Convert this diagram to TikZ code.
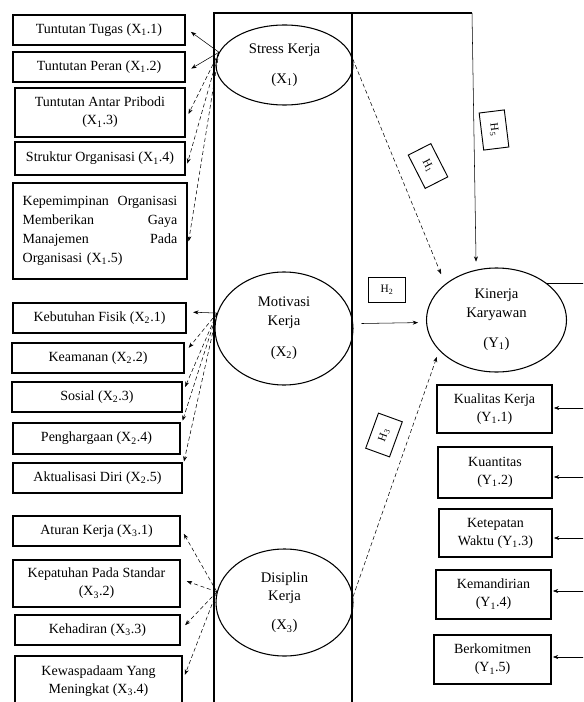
\documentclass[tikz,border=0pt]{standalone}
\usepackage{fontspec}
\setmainfont{Liberation Serif}
\usetikzlibrary{shapes.geometric,arrows.meta}

\tikzset{
  ind/.style={draw,line width=0.8pt,inner sep=2pt,align=center,font=\fontsize{10.5}{13.5}\selectfont},
  lat/.style={draw,ellipse,line width=0.8pt,inner sep=0pt,align=center,font=\fontsize{11}{14}\selectfont},
  hyp/.style={draw,line width=0.7pt,inner sep=1pt,minimum width=28pt,minimum height=19pt,font=\fontsize{8.5}{9}\selectfont},
  arr/.style={-{Stealth[length=4pt,width=3pt]},line width=0.4pt},
}

\begin{document}
\begin{tikzpicture}[x=0.75pt,y=-0.75pt]
  \useasboundingbox (0,0) rectangle (583,702);
  \clip (0,0) rectangle (583,702);

  % middle frame
  \draw[line width=0.8pt] (214,710) -- (214,13) -- (352,13) -- (352,710);
  \coordinate (h5a) at (352,13);
  \coordinate (h5b) at (472,13);

  % latent variables
  \node[lat,minimum width=102.75pt,minimum height=60pt] (stress) at (284.5,65)
    {Stress Kerja\\[8.5pt](X\textsubscript{1})};
  \node[lat,minimum width=103.5pt,minimum height=84.75pt] (motivasi) at (284,328.5)
    {Motivasi\\Kerja\\[9.25pt](X\textsubscript{2})};
  \node[lat,minimum width=102.75pt,minimum height=80.25pt] (disiplin) at (284.5,602.5)
    {Disiplin\\Kerja\\[7.75pt](X\textsubscript{3})};
  \node[lat,minimum width=105pt,minimum height=78pt] (kinerja) at (496.5,320)
    {Kinerja\\Karyawan\\[8.5pt](Y\textsubscript{1})};

  % indicators of X1
  \node[ind,minimum width=129pt,minimum height=22.5pt] (x11) at (99,30) {Tuntutan Tugas (X\textsubscript{1}.1)};
  \node[ind,minimum width=129pt,minimum height=22.5pt] (x12) at (99,67) {Tuntutan Peran (X\textsubscript{1}.2)};
  \node[ind,minimum width=127.5pt,minimum height=36.75pt] (x13) at (100,112.5) {Tuntutan Antar Pribodi\\(X\textsubscript{1}.3)};
  \node[ind,minimum width=127.5pt,minimum height=24.75pt] (x14) at (100,158.5) {Struktur Organisasi (X\textsubscript{1}.4)};
  \node[ind,minimum width=130.5pt,minimum height=72pt,text width=116pt,align=left,
    font=\fontsize{10.5}{14.25}\selectfont] (x15) at (100,231)
    {Kepemimpinan\hfill Organisasi\\Memberikan\hfill Gaya\\Manajemen\hfill Pada\\Organisasi (X\textsubscript{1}.5)};

  % indicators of X2
  \node[ind,minimum width=129.75pt,minimum height=22.5pt] (x21) at (99.5,318) {Kebutuhan Fisik (X\textsubscript{2}.1)};
  \node[ind,minimum width=129pt,minimum height=22.5pt] (x22) at (98,358) {Keamanan (X\textsubscript{2}.2)};
  \node[ind,minimum width=127.5pt,minimum height=22.5pt] (x23) at (97,397) {Sosial (X\textsubscript{2}.3)};
  \node[ind,minimum width=125.25pt,minimum height=23.25pt] (x24) at (96.5,438.5) {Penghargaan (X\textsubscript{2}.4)};
  \node[ind,minimum width=126.75pt,minimum height=22.5pt] (x25) at (97.5,478) {Aktualisasi Diri (X\textsubscript{2}.5)};

  % indicators of X3
  \node[ind,minimum width=125.25pt,minimum height=22.5pt] (x31) at (96.5,531) {Aturan Kerja (X\textsubscript{3}.1)};
  \node[ind,minimum width=125.25pt,minimum height=35.25pt] (x32) at (96.5,583.5) {Kepatuhan Pada Standar\\(X\textsubscript{3}.2)};
  \node[ind,minimum width=123.75pt,minimum height=22.5pt] (x33) at (97.5,630) {Kehadiran (X\textsubscript{3}.3)};
  \node[ind,minimum width=125.25pt,minimum height=37.5pt] (x34) at (98.5,681) {Kewaspadaam Yang\\Meningkat (X\textsubscript{3}.4)};

  % indicators of Y1
  \node[ind,minimum width=86.25pt,minimum height=36pt] (y1) at (494.5,409) {Kualitas Kerja\\(Y\textsubscript{1}.1)};
  \node[ind,minimum width=85.5pt,minimum height=38.25pt] (y2) at (495,472.5) {Kuantitas\\(Y\textsubscript{1}.2)};
  \node[ind,minimum width=84.75pt,minimum height=36pt] (y3) at (495.5,533) {Ketepatan\\Waktu (Y\textsubscript{1}.3)};
  \node[ind,minimum width=86.25pt,minimum height=36.75pt] (y4) at (493.5,594.5) {Kemandirian\\(Y\textsubscript{1}.4)};
  \node[ind,minimum width=87.75pt,minimum height=36.75pt] (y5) at (492.5,659.5) {Berkomitmen\\(Y\textsubscript{1}.5)};

  % hypothesis labels
  \node[hyp,rotate=-63] (h1) at (428,166) {H\textsubscript{1}};
  \node[hyp] (h2) at (387,290) {H\textsubscript{2}};
  \node[hyp,rotate=70] (h3) at (384,435) {H\textsubscript{3}};
  \node[hyp,rotate=-83] (h5) at (494,130) {H\textsubscript{5}};

  % loadings
  \foreach \b/\d/\s in {x11/1.5/solid, x12/-3.75/solid, x13/-5.6/densely dashed,
      x14/-8.6/densely dashed, x15/-12.75/densely dashed}
    \draw[arr,\s,shorten >=5pt] (stress.169) -- ([yshift=\d pt]\b.east);
  \foreach \b/\d/\s in {x21/4.5/solid, x22/3.75/densely dashed, x23/3/densely dashed,
      x24/8.6/densely dashed, x25/7.5/densely dashed}
    \draw[arr,\s,shorten >=5pt] (motivasi.167) -- ([yshift=\d pt]\b.east);
  \foreach \b/\d in {x31/2.25, x32/3.4, x33/0, x34/0}
    \draw[arr,densely dashed,shorten >=5pt] (disiplin.171) -- ([yshift=\d pt]\b.east);

  % paths to Y1
  \draw[arr,densely dashed,shorten >=8pt] (stress.5) -- (kinerja.145);
  \draw[arr,shorten <=6pt,shorten >=6pt] (motivasi.4) -- (kinerja.182);
  \draw[arr,densely dashed,shorten >=5pt] (disiplin.5) -- (kinerja.208);
  \draw[line width=0.8pt] (h5a) -- (h5b);
  \draw[arr,shorten >=6pt] (h5b) -- (kinerja.112);

  % Y1 to its indicators
  \coordinate (kout) at (590,283);
  \draw[line width=0.4pt] (kinerja.north east) -- (kinerja.north east -| kout);
  \foreach \i/\y in {1/408, 2/477, 3/538, 4/591, 5/657} {
    \coordinate (yr\i) at (590,\y);
    \draw[arr,shorten >=1pt] (yr\i) -- (y\i.east |- yr\i);
  }
\end{tikzpicture}
\end{document}
